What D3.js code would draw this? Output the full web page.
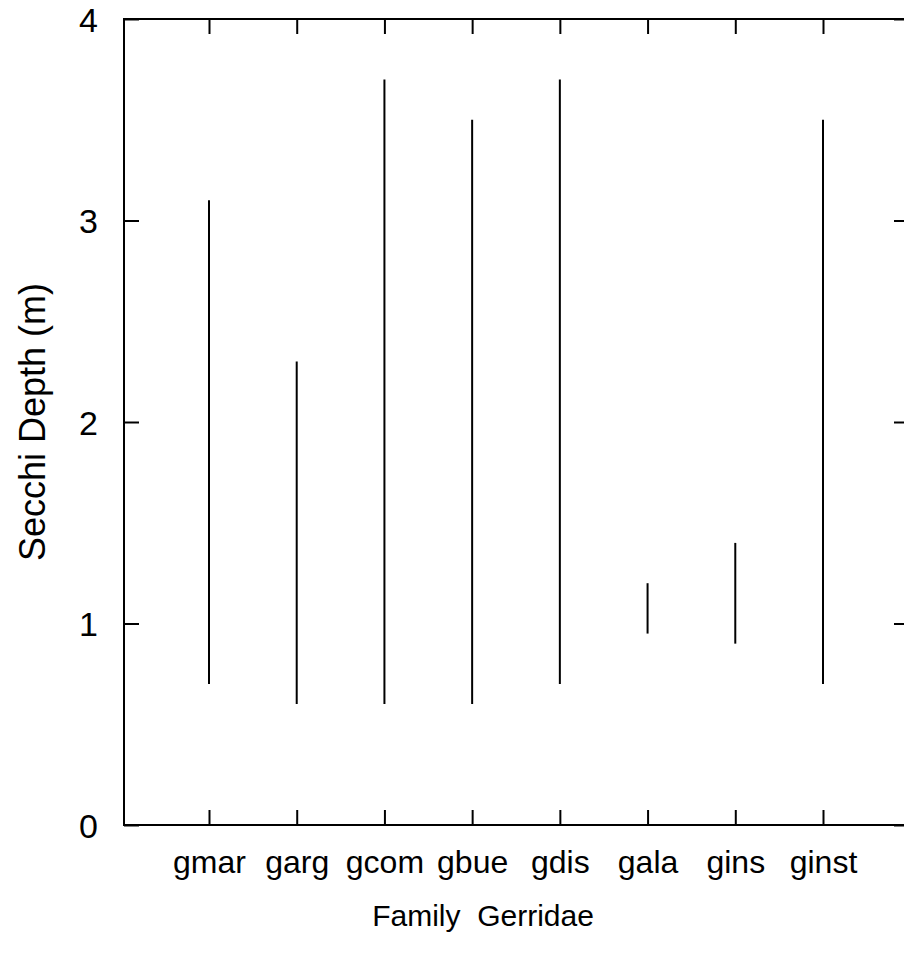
<!DOCTYPE html>
<html>
<head>
<meta charset="utf-8">
<script src="https://cdn.jsdelivr.net/npm/d3@7"></script>
<style>
  html, body { margin: 0; padding: 0; background: #fff; }
  svg { display: block; }
  text { font-family: "Liberation Sans", Arial, Helvetica, sans-serif; fill: #000; }
</style>
</head>
<body>
<svg id="chart" width="904" height="957"></svg>
<script>
// ---- data ----
const categories = ["gmar", "garg", "gcom", "gbue", "gdis", "gala", "gins", "ginst"];
const minDepth   = [0.7, 0.6, 0.6, 0.6, 0.7, 0.95, 0.9, 0.7];
const maxDepth   = [3.1, 2.3, 3.7, 3.5, 3.7, 1.2, 1.4, 3.5];
const yTicks     = [0, 1, 2, 3, 4];
const xTitle = "Family  Gerridae";
const yTitle = "Secchi Depth (m)";

(function () {
const rows = categories.map((c, i) => ({ cat: c, lo: minDepth[i], hi: maxDepth[i] }));

// ---- layout ----
const svg = d3.select("#chart");
const pLeft = 124, pRight = 909, pTop = 19, pBottom = 825;

const x = d3.scalePoint().domain(categories).range([209, 823]);
const y = d3.scaleLinear().domain([0, 4]).range([pBottom, pTop]);

const g = svg.append("g");

// frame
g.append("rect")
  .attr("x", pLeft).attr("y", pTop)
  .attr("width", pRight - pLeft).attr("height", pBottom - pTop)
  .attr("fill", "none").attr("stroke", "#000").attr("stroke-width", 2);

const tickLen = 15;

// left axis
const yAxisL = d3.axisLeft(y).tickValues(yTicks).tickSize(-tickLen).tickPadding(26)
  .tickFormat(d3.format("d"));
const gl = g.append("g").attr("transform", `translate(${pLeft},0)`).call(yAxisL);
gl.select(".domain").remove();
gl.selectAll("line").attr("stroke", "#000").attr("stroke-width", 2);
gl.selectAll("text").attr("font-size", 34).attr("dy", "0.36em")
  .style("font-family", "Liberation Sans, Arial, sans-serif");

// right axis (inward ticks)
const yAxisR = d3.axisRight(y).tickValues(yTicks).tickSize(-tickLen).tickFormat("");
const gr = g.append("g").attr("transform", `translate(${pRight},0)`).call(yAxisR);
gr.select(".domain").remove();
gr.selectAll("line").attr("stroke", "#000").attr("stroke-width", 2);

// bottom axis (inward ticks)
const xAxisB = d3.axisBottom(x).tickSize(-tickLen).tickPadding(25);
const gb = g.append("g").attr("transform", `translate(0,${pBottom})`).call(xAxisB);
gb.select(".domain").remove();
gb.selectAll("line").attr("stroke", "#000").attr("stroke-width", 2);
gb.selectAll("text").attr("font-size", 32).attr("dy", "0.71em")
  .style("font-family", "Liberation Sans, Arial, sans-serif");

// top axis (inward ticks)
const xAxisT = d3.axisTop(x).tickSize(-tickLen).tickFormat("");
const gt = g.append("g").attr("transform", `translate(0,${pTop})`).call(xAxisT);
gt.select(".domain").remove();
gt.selectAll("line").attr("stroke", "#000").attr("stroke-width", 2);

// range lines
g.append("g").selectAll("line.range").data(rows).join("line")
  .attr("class", "range")
  .attr("x1", d => x(d.cat)).attr("x2", d => x(d.cat))
  .attr("y1", d => y(d.lo)).attr("y2", d => y(d.hi))
  .attr("stroke", "#000").attr("stroke-width", 2);

// titles
g.append("text")
  .attr("x", 483).attr("y", 926)
  .attr("text-anchor", "middle").attr("font-size", 30)
  .style("white-space", "pre")
  .text(xTitle);

g.append("text")
  .attr("transform", `translate(45,${(pBottom + pTop) / 2}) rotate(-90)`)
  .attr("text-anchor", "middle").attr("font-size", 36)
  .text(yTitle);
})();
</script>
</body>
</html>
